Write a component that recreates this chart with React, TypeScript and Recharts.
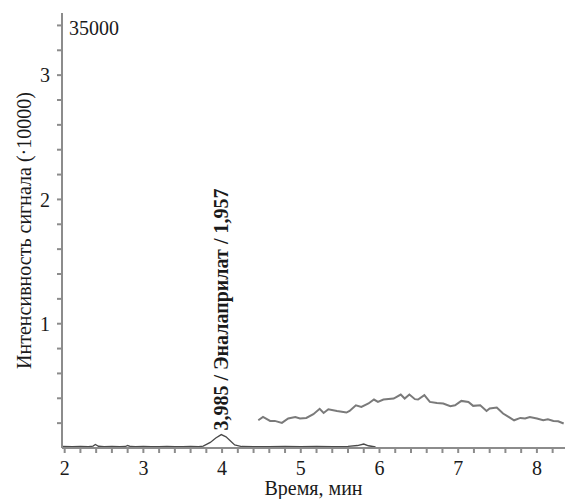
import React from "react";
import { LineChart, Line, XAxis, YAxis, ReferenceDot, Label } from "recharts";

const xTicks = [2, 2.2, 2.4, 2.6, 2.8, 3, 3.2, 3.4, 3.6, 3.8, 4, 4.2, 4.4, 4.6, 4.8, 5, 5.2, 5.4, 5.6, 5.8, 6, 6.2, 6.4, 6.6, 6.8, 7, 7.2, 7.4, 7.6, 7.8, 8, 8.2];
const yTicks = [0.2, 0.4, 0.6, 0.8, 1, 1.2, 1.4, 1.6, 1.8, 2, 2.2, 2.4, 2.6, 2.8, 3, 3.2, 3.4];

const baseTime = [1.97, 2.1, 2.2, 2.3, 2.36, 2.39, 2.43, 2.5, 2.6, 2.7, 2.77, 2.8, 2.84, 2.9, 3.0, 3.1, 3.2, 3.3, 3.4, 3.5, 3.6, 3.7, 3.76, 3.85, 3.92, 3.99, 4.05, 4.1, 4.16, 4.25, 4.4, 4.6, 4.8, 5.0, 5.2, 5.4, 5.6, 5.72, 5.8, 5.86, 5.95];
const baseSignal = [0.012, 0.01, 0.012, 0.01, 0.015, 0.028, 0.014, 0.01, 0.012, 0.011, 0.012, 0.02, 0.012, 0.01, 0.013, 0.011, 0.01, 0.012, 0.01, 0.011, 0.012, 0.01, 0.015, 0.045, 0.08, 0.108, 0.09, 0.06, 0.025, 0.012, 0.01, 0.011, 0.013, 0.01, 0.012, 0.011, 0.013, 0.02, 0.032, 0.018, 0.008];

const bgTime = [4.46, 4.52, 4.61, 4.67, 4.76, 4.84, 4.93, 4.99, 5.07, 5.16, 5.24, 5.29, 5.35, 5.46, 5.58, 5.62, 5.70, 5.77, 5.86, 5.93, 5.98, 6.05, 6.18, 6.27, 6.32, 6.38, 6.45, 6.49, 6.57, 6.64, 6.73, 6.81, 6.90, 6.96, 7.04, 7.13, 7.19, 7.28, 7.36, 7.40, 7.49, 7.57, 7.64, 7.71, 7.79, 7.85, 7.91, 8.00, 8.08, 8.14, 8.21, 8.27, 8.34];
const bgSignal = [0.223, 0.25, 0.218, 0.218, 0.202, 0.237, 0.25, 0.237, 0.242, 0.272, 0.315, 0.282, 0.312, 0.298, 0.285, 0.298, 0.344, 0.331, 0.358, 0.39, 0.371, 0.39, 0.398, 0.43, 0.398, 0.43, 0.393, 0.39, 0.425, 0.371, 0.363, 0.358, 0.336, 0.344, 0.379, 0.371, 0.339, 0.344, 0.298, 0.318, 0.326, 0.277, 0.25, 0.223, 0.242, 0.237, 0.25, 0.237, 0.223, 0.231, 0.218, 0.215, 0.197];

const peakTime = 3.985;
const peakSignal = 0.108;
const peakText = "3,985 / Эналаприлат / 1,957";
const xTitle = "Время, мин";
const yTitle = "Интенсивность сигнала (·10000)";
const scaleNote = "35000";

const baseData = baseTime.map((t, i) => ({ t, v: baseSignal[i] }));
const bgData = bgTime.map((t, i) => ({ t, v: bgSignal[i] }));

const FONT = "Liberation Serif";
const AXIS = "#8c8c8c";
const TEXT = "#1a1a1a";

const intLabel = (v: number) => (Math.abs(v - Math.round(v)) < 1e-6 ? String(Math.round(v)) : "");

export default function App() {
  return (
    <div style={{ position: "absolute", left: 0, top: 0, width: 565, height: 499, background: "#fff", fontFamily: FONT }}>
      <LineChart width={565} height={499} margin={{ top: 13, right: 0, bottom: 21, left: 22 }}>
        <XAxis
          type="number"
          dataKey="t"
          domain={[1.966, 8.357]}
          allowDataOverflow
          ticks={xTicks}
          interval={0}
          tickFormatter={intLabel}
          height={30}
          stroke={AXIS}
          strokeWidth={2}
          tickSize={5}
          tickMargin={8}
          tick={{ fill: TEXT, fontSize: 20, fontFamily: FONT }}
        >
          <Label
            content={(p: any) => {
              const vb = p.viewBox;
              return (
                <text x={vb.x + vb.width / 2} y={vb.y + vb.height + 17} textAnchor="middle" fill={TEXT} fontSize={20} fontFamily={FONT}>
                  {xTitle}
                </text>
              );
            }}
          />
        </XAxis>
        <YAxis
          type="number"
          domain={[0, 3.5]}
          allowDataOverflow
          ticks={yTicks}
          interval={0}
          tickFormatter={intLabel}
          width={40}
          stroke={AXIS}
          strokeWidth={2}
          tickSize={5}
          tickMargin={7}
          tick={{ fill: TEXT, fontSize: 20, fontFamily: FONT }}
        >
          <Label
            content={(p: any) => {
              const vb = p.viewBox;
              const cx = vb.x + 9;
              const cy = vb.y + vb.height / 2;
              return (
                <text x={cx} y={cy} transform={`rotate(-90 ${cx} ${cy})`} textAnchor="middle" fill={TEXT} fontSize={20} fontFamily={FONT}>
                  {yTitle}
                </text>
              );
            }}
          />
        </YAxis>
        <Line data={baseData} dataKey="v" type="linear" stroke="#4a4a4a" strokeWidth={1.3} dot={false} isAnimationActive={false} />
        <Line data={bgData} dataKey="v" type="linear" stroke="#7a7a7a" strokeWidth={2} dot={false} isAnimationActive={false} />
        <ReferenceDot
          x={peakTime}
          y={peakSignal}
          r={0}
          fill="none"
          stroke="none"
          ifOverflow="visible"
          label={(p: any) => {
            const vb = p.viewBox;
            const x = vb.x + 7;
            const y = vb.y - 4;
            return (
              <text x={x} y={y} transform={`rotate(-90 ${x} ${y})`} textAnchor="start" fill={TEXT} fontSize={20} fontWeight="bold" fontFamily={FONT}>
                {peakText}
              </text>
            );
          }}
        />
      </LineChart>
      <div style={{ position: "absolute", left: 69, top: 18, fontFamily: FONT, fontSize: 20, lineHeight: "20px", color: TEXT, whiteSpace: "nowrap" }}>
        {scaleNote}
      </div>
    </div>
  );
}
